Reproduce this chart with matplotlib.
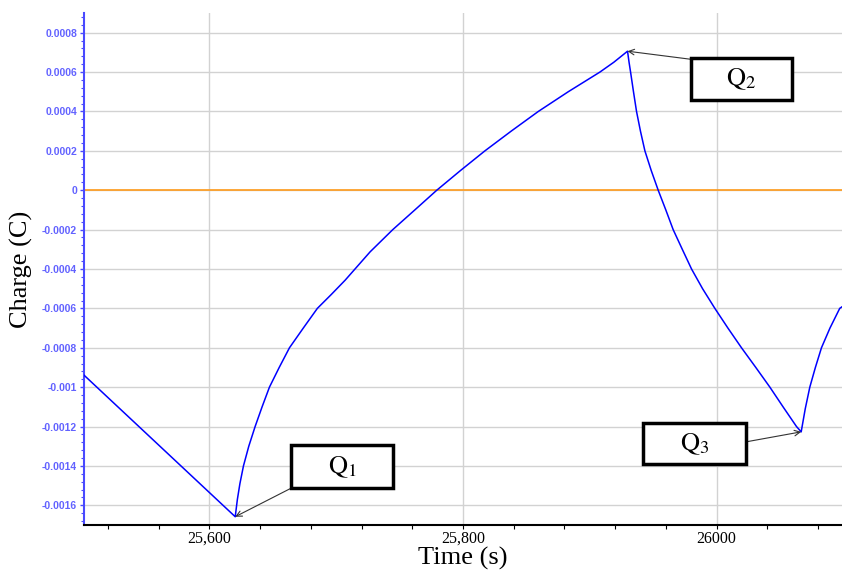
import matplotlib
matplotlib.use('Agg')
import matplotlib.pyplot as plt
from matplotlib.patches import Rectangle
from matplotlib.ticker import MultipleLocator, FixedLocator, FixedFormatter

# charge trace (time in s, charge in C)
time = [25501, 25620.3,
        25622.0, 25624.0, 25626.8, 25631.0, 25636.0, 25641.5, 25647.3,
        25655.0, 25663.1, 25674.0, 25685.1, 25696.0, 25707.0, 25726.7,
        25744.6, 25762.0, 25779.3, 25798.0, 25817.3, 25838.0, 25859.4,
        25883.0, 25908.0, 25919.0, 25929.8,
        25931.0, 25932.2, 25934.5, 25936.9, 25940.0, 25943.5, 25948.5,
        25954.0, 25960.0, 25965.8, 25973.0, 25980.3, 25989.0, 25998.7,
        26009.0, 26019.7, 26031.0, 26042.1, 26052.5, 26063.1, 26066.8,
        26070.0, 26073.6, 26078.0, 26082.8, 26089.5, 26097.2, 26099]
charge = [-0.000939, -0.001658,
          -0.00157, -0.00149, -0.0014, -0.0013, -0.0012, -0.0011, -0.001,
          -0.0009, -0.0008, -0.0007, -0.0006, -0.00053, -0.000457, -0.000313,
          -0.0002, -0.0001, 0.0, 0.0001, 0.0002, 0.0003, 0.0004,
          0.0005, 0.0006, 0.00065, 0.000706,
          0.00065, 0.0006, 0.0005, 0.0004, 0.0003, 0.0002, 0.0001,
          0.0, -0.0001, -0.0002, -0.0003, -0.0004, -0.0005, -0.0006,
          -0.0007, -0.0008, -0.0009, -0.001, -0.0011, -0.0012, -0.001227,
          -0.00111, -0.001, -0.0009, -0.0008, -0.0007, -0.0006, -0.000592]

# marked points
q_names = [r'$\mathrm{Q_1}$', r'$\mathrm{Q_2}$', r'$\mathrm{Q_3}$']
q_time = [25620.3, 25929.8, 26066.8]
q_charge = [-0.001658, 0.000706, -0.001227]

x_ticks = [25600, 25800, 26000]
x_labels = ['25,600', '25,800', '26000']
y_ticks = [0.0008, 0.0006, 0.0004, 0.0002, 0, -0.0002, -0.0004, -0.0006,
           -0.0008, -0.001, -0.0012, -0.0014, -0.0016]
y_labels = ['0.0008', '0.0006', '0.0004', '0.0002', '0', '-0.0002', '-0.0004',
            '-0.0006', '-0.0008', '-0.001', '-0.0012', '-0.0014', '-0.0016']

plt.rcParams['mathtext.fontset'] = 'stix'

fig = plt.figure(figsize=(8.42, 5.72), dpi=100)
ax = fig.add_axes([84/842, 1 - 525/572, 1 - 84/842, (525 - 13)/572])

ax.axhline(0, color='#ff9a1a', lw=1.2, zorder=2)
ax.plot(time, charge, color='#0000ff', lw=1.1, zorder=3)

ax.set_xlim(25501, 26099)
ax.set_ylim(-0.0017, 0.0009)

# axes styling
for s in ['top', 'right']:
    ax.spines[s].set_visible(False)
ax.spines['left'].set_color('#4a4aff')
ax.spines['left'].set_linewidth(1.5)
ax.spines['bottom'].set_color('black')
ax.spines['bottom'].set_linewidth(1.5)

ax.xaxis.set_major_locator(FixedLocator(x_ticks))
ax.xaxis.set_major_formatter(FixedFormatter(x_labels))
ax.xaxis.set_minor_locator(MultipleLocator(40))
ax.yaxis.set_major_locator(FixedLocator(y_ticks))
ax.yaxis.set_major_formatter(FixedFormatter(y_labels))
ax.yaxis.set_minor_locator(MultipleLocator(0.00004))

ax.tick_params(axis='x', which='both', length=3, width=0.8, color='black', pad=1)
ax.tick_params(axis='y', which='major', length=3, width=1, color='#4a4aff', pad=2)
ax.tick_params(axis='y', which='minor', length=2, width=0.8, color='#4a4aff')
for lab in ax.get_xticklabels():
    lab.set_fontfamily('Liberation Serif')
    lab.set_fontsize(11.5)
for lab in ax.get_yticklabels():
    lab.set_fontfamily('Liberation Sans')
    lab.set_fontsize(7.5)
    lab.set_fontweight('bold')
    lab.set_color('#6262ff')

ax.grid(True, which='major', color='#d2d2d2', lw=1, zorder=0)
ax.set_axisbelow(True)

ax.set_xlabel('Time (s)', fontfamily='Liberation Serif', fontsize=19, labelpad=0)
ax.set_ylabel('Charge (C)', fontfamily='Liberation Serif', fontsize=19, labelpad=6)

# label boxes: (left, bottom, right, top) in data units, arrow start point
boxes = [(25664.4, -0.001513, 25744.8, -0.001294, 25664.4, -0.001513),
         (25979.7, 0.000457, 26059.3, 0.00067, 25979.7, 0.000665),
         (25941.9, -0.001391, 26023.1, -0.001183, 26023.1, -0.001278)]

for name, qt, qc, b in zip(q_names, q_time, q_charge, boxes):
    x0, y0, x1, y1, ax0, ay0 = b
    ax.add_patch(Rectangle((x0, y0), x1 - x0, y1 - y0, fc='white', ec='black',
                           lw=2.5, zorder=5))
    ax.text((x0 + x1) / 2, (y0 + y1) / 2, name, ha='center', va='center',
            fontsize=19, zorder=6)
    ax.annotate('', xy=(qt, qc), xytext=(ax0, ay0),
                arrowprops=dict(arrowstyle='->', color='#333333', lw=0.8,
                                shrinkA=0, shrinkB=0), zorder=4)

fig.savefig('out.png', dpi=100)
